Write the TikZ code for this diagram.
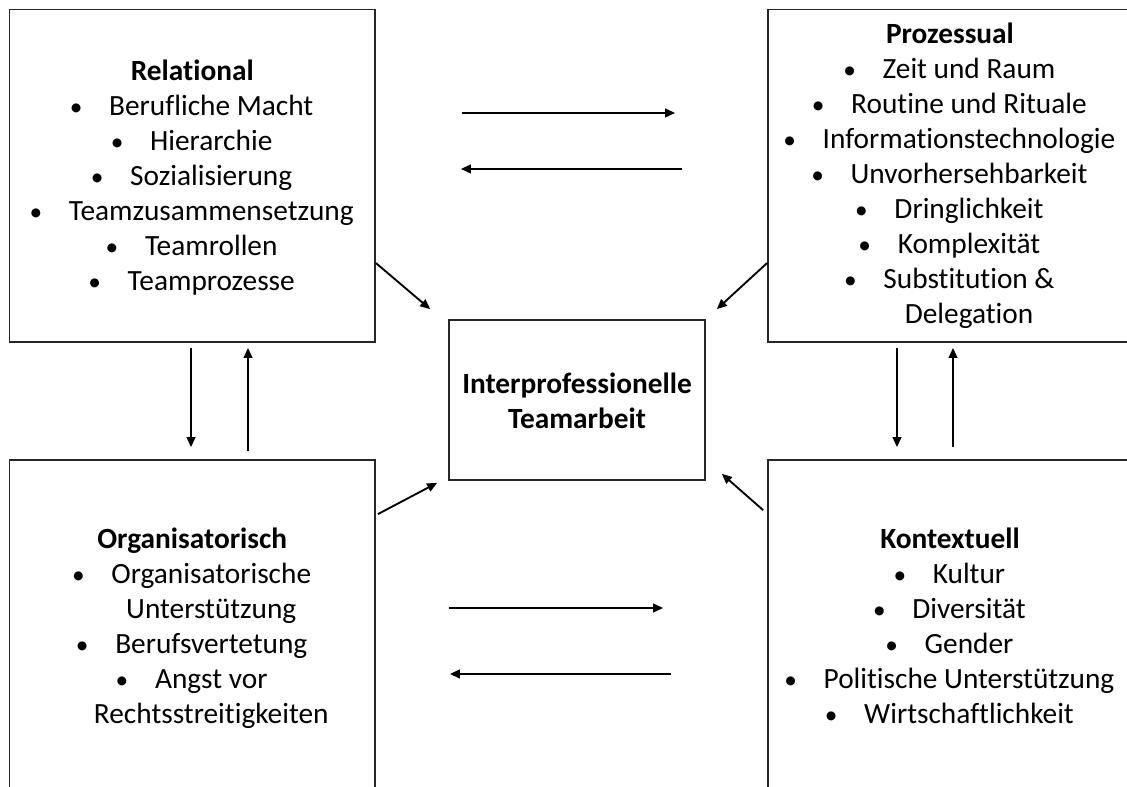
\documentclass[tikz,border=0pt]{standalone}
\usepackage{fontspec}
\setmainfont{Carlito}[Ligatures=NoCommon]
\usetikzlibrary{arrows.meta}
% bullet item: dot, then gap to the text
\newcommand{\itm}{\makebox[7.5pt][c]{\fontsize{19}{19}\selectfont•}\hspace{21pt}}
% wrapped line of a bullet item, indented like the item text
\newcommand{\cont}{\hspace*{28.5pt}}

\begin{document}
\begin{tikzpicture}[x=0.75pt,y=-0.75pt,
  box/.style={draw=black!85, line width=1.3pt, rectangle, inner sep=0pt},
  txt/.style={align=center, inner sep=0pt, font=\fontsize{22}{26.25}\selectfont, anchor=north},
  arr/.style={line width=1.4pt, -{Triangle[length=7.5pt,width=6.5pt]}}]
\useasboundingbox (0,0) rectangle (1127,787);
\clip (0,0) rectangle (1127,787);

% the five boxes
\node[box, minimum width=274.1pt, minimum height=249.4pt] (tl) at (192.25,175.75) {};
\node[box, minimum width=273pt,   minimum height=249.4pt] (tr) at (950,175.75) {};
\node[box, minimum width=274.1pt, minimum height=251.25pt] (bl) at (192.25,627.5) {};
\node[box, minimum width=273pt,   minimum height=251.25pt] (br) at (950,627.5) {};
\node[box, minimum width=192pt,   minimum height=120pt] (c) at (577,400) {};

% box contents
\node[txt] (tltext) at (192.25,55.5) {\strut\textbf{Relational}\\
  \itm Berufliche Macht\\
  \itm Hierarchie\\
  \itm Sozialisierung\\
  \itm Teamzusammensetzung\\
  \itm Teamrollen\\
  \itm Teamprozesse};

\node[txt] (trtext) at (950,18.5) {\strut\textbf{Prozessual}\\
  \itm Zeit und Raum\\
  \itm Routine und Rituale\\
  \itm Informationstechnologie\\
  \itm Unvorhersehbarkeit\\
  \itm Dringlichkeit\\
  \itm Komplexität\\
  \itm Substitution \&\\
  \cont Delegation};

\node[txt] (bltext) at (192.25,523.5) {\strut\textbf{Organisatorisch}\\
  \itm Organisatorische\\
  \cont Unterstützung\\
  \itm Berufsvertetung\\
  \itm Angst vor\\
  \cont Rechtsstreitigkeiten};

\node[txt] (brtext) at (950,523.5) {\strut\textbf{Kontextuell}\\
  \itm Kultur\\
  \itm Diversität\\
  \itm Gender\\
  \itm Politische Unterstützung\\
  \itm Wirtschaftlichkeit};

\node[txt, font=\fontsize{22}{26.25}\selectfont\bfseries] (ctext) at (577,368.5)
  {\strut Interprofessionelle\\Teamarbeit};

% horizontal arrows between the upper boxes
\draw[arr] ([shift={(86,-62.75)}]tl.east) -- ([shift={(-92,-62.75)}]tr.west);
\draw[arr] ([shift={(-85,-6.75)}]tr.west) -- ([shift={(85,-6.75)}]tl.east);
% horizontal arrows between the lower boxes
\draw[arr] ([shift={(73,-19.5)}]bl.east) -- ([shift={(-104,-19.5)}]br.west);
\draw[arr] ([shift={(-96,46.5)}]br.west) -- ([shift={(74,46.5)}]bl.east);
% vertical arrows on the left
\draw[arr] ([shift={(-1.25,5)}]tl.south) -- ([shift={(-1.25,-12)}]bl.north);
\draw[arr] ([shift={(55.75,-8)}]bl.north) -- ([shift={(55.75,5)}]tl.south);
% vertical arrows on the right
\draw[arr] ([shift={(-53,5)}]tr.south) -- ([shift={(-53,-12)}]br.north);
\draw[arr] ([shift={(3,-12)}]br.north) -- ([shift={(3,5)}]tr.south);
% diagonal arrows into the centre box
\draw[arr] ([shift={(0,87.25)}]tl.east) -- ([shift={(-18,-10)}]c.north west);
\draw[arr] ([shift={(0,87.25)}]tr.west) -- ([shift={(11,-10)}]c.north east);
\draw[arr] ([shift={(2,55)}]bl.north east) -- ([shift={(-11,2)}]c.south west);
\draw[arr] ([shift={(-4,51)}]br.north west) -- ([shift={(16,-7)}]c.south east);
\end{tikzpicture}
\end{document}
